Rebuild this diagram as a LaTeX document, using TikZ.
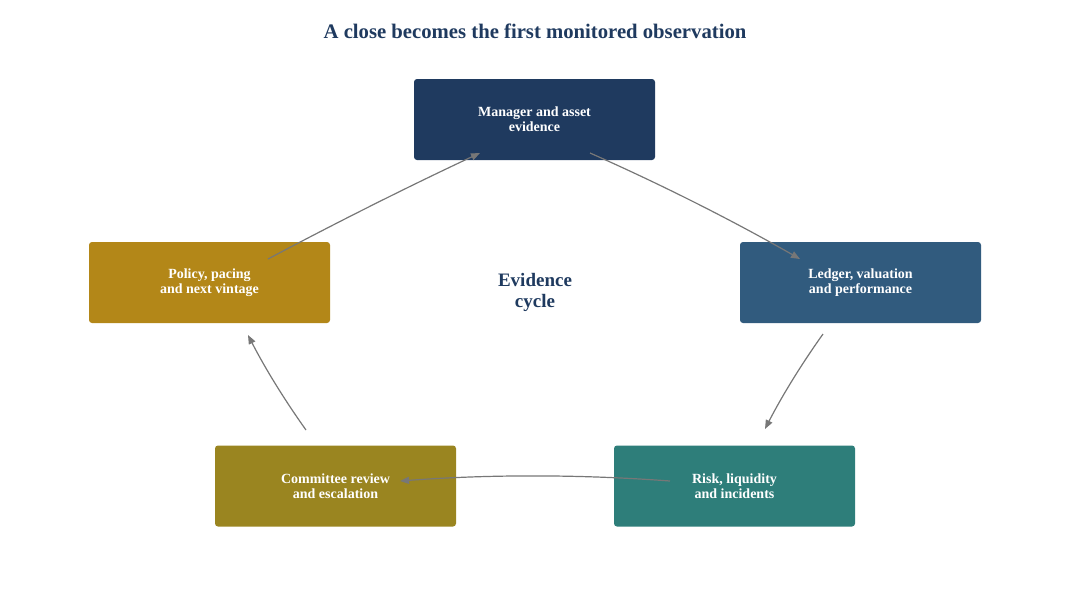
\documentclass[tikz,border=0pt]{standalone}
\usepackage{fontspec}
\setmainfont{Liberation Serif}
\usetikzlibrary{arrows.meta}
\definecolor{navy}{HTML}{1F3A5F}
\definecolor{steel}{HTML}{315B7E}
\definecolor{ochre}{HTML}{B38718}
\definecolor{olive}{HTML}{9A8520}
\definecolor{teal2}{HTML}{2E7E7A}
\definecolor{conn}{HTML}{777777}
\tikzset{
  stagebox/.style={rectangle, rounded corners=3pt, minimum width=241pt, minimum height=81pt,
    inner sep=0pt, align=center, text=white, font=\fontsize{14}{15}\selectfont\bfseries},
  flow/.style={draw=conn, line width=1.2pt, -{Triangle[length=9pt,width=7pt]}}
}
\begin{document}
\begin{tikzpicture}[x=1pt,y=1pt]
\useasboundingbox (0,0) rectangle (1070,-590);
\node[font=\fontsize{20.7}{24}\selectfont\bfseries, text=navy] (title) at (535,-31) {A close becomes the first monitored observation};
\node[stagebox, fill=navy] (mgr) at (534.5,-119.5) {Manager and asset\\evidence};
\node[stagebox, fill=steel] (ledger) at (860.5,-282.5) {Ledger, valuation\\and performance};
\node[stagebox, fill=ochre] (policy) at (209.5,-282.5) {Policy, pacing\\and next vintage};
\node[stagebox, fill=olive] (committee) at (335.5,-486) {Committee review\\and escalation};
\node[stagebox, fill=teal2] (risk) at (734.5,-486) {Risk, liquidity\\and incidents};
\node[font=\fontsize{19}{21}\selectfont\bfseries, text=navy, align=center] (centre) at (535,-292) {Evidence\\cycle};
\coordinate (p1s) at (268,-259); \coordinate (p1e) at (480,-153);
\coordinate (p2s) at (590,-153); \coordinate (p2e) at (800,-259);
\coordinate (p3s) at (823,-334); \coordinate (p3e) at (765,-429);
\coordinate (p4s) at (670,-481); \coordinate (p4e) at (400,-481);
\coordinate (p5s) at (306,-430); \coordinate (p5e) at (248,-335);
\draw[flow] (p1s) .. controls (337.8,-221.9) and (408.4,-186.5) .. (p1e);
\draw[flow] (p2s) .. controls (661.8,-184.7) and (731.8,-220.1) .. (p2e);
\draw[flow] (p3s) .. controls (801.4,-364.3) and (782,-395.9) .. (p3e);
\draw[flow] (p4s) .. controls (580,-474.3) and (490,-474.3) .. (p4e);
\draw[flow] (p5s) .. controls (284.4,-399.7) and (265,-368.1) .. (p5e);
\end{tikzpicture}
\end{document}
